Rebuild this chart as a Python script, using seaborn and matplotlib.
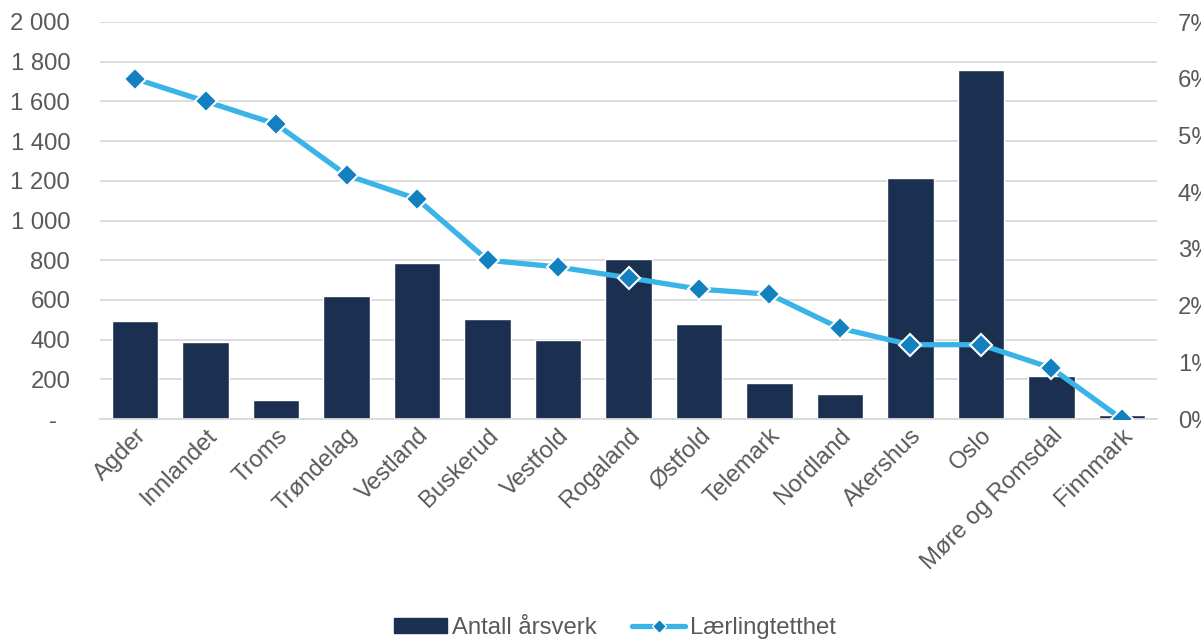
import matplotlib
matplotlib.use("Agg")
import matplotlib.pyplot as plt
import seaborn as sns
import pandas as pd
from matplotlib.ticker import FixedLocator, FuncFormatter
from matplotlib.lines import Line2D
from matplotlib.patches import Patch

categories = ["Agder", "Innlandet", "Troms", "Trøndelag", "Vestland", "Buskerud",
              "Vestfold", "Rogaland", "Østfold", "Telemark", "Nordland", "Akershus",
              "Oslo", "Møre og Romsdal", "Finnmark"]
arsverk = [495, 390, 95, 620, 785, 505, 400, 808, 480, 182, 126, 1214, 1758, 218, 22]
laerlingtetthet = [6.0, 5.6, 5.2, 4.3, 3.88, 2.8, 2.68, 2.49, 2.29, 2.2, 1.6, 1.31, 1.31, 0.9, 0.0]
left_ticks = [0, 200, 400, 600, 800, 1000, 1200, 1400, 1600, 1800, 2000]
right_ticks = [0, 1, 2, 3, 4, 5, 6, 7]
bar_label = "Antall årsverk"
line_label = "Lærlingtetthet"

sns.set_theme(style="white")
plt.rcParams["font.family"] = ["Liberation Sans", "DejaVu Sans"]

BAR = "#1B3050"
LINE = "#3AB4E6"
MARK = "#1380C0"
TXT = "#595959"
GRID = "#D9D9D9"
FS = 17.2

df = pd.DataFrame({"Fylke": categories, "Arsverk": arsverk, "Pct": laerlingtetthet})

fig = plt.figure(figsize=(12.01, 6.41), dpi=100)
ax = fig.add_axes([100 / 1201, 1 - 419 / 641, (1157 - 100) / 1201, (419 - 22) / 641])
sns.barplot(data=df, x="Fylke", y="Arsverk", color=BAR, width=0.66, saturation=1,
            ax=ax, zorder=2)
ax.set_ylim(0, 2000)
ax.set_xlim(-0.5, len(categories) - 0.5)
ax.yaxis.set_major_locator(FixedLocator(left_ticks))
ax.yaxis.set_major_formatter(FuncFormatter(
    lambda v, p: "-  " if v == 0 else f"{int(v):,}".replace(",", " ")))
ax.grid(axis="y", color=GRID, linewidth=1.3, zorder=0)
ax.set_axisbelow(True)
for s in ["top", "right", "left"]:
    ax.spines[s].set_visible(False)
ax.spines["bottom"].set_color(GRID)
ax.spines["bottom"].set_linewidth(1.3)
ax.set_xlabel("")
ax.set_ylabel("")
ax.tick_params(axis="y", length=0, pad=21.5, labelsize=FS, labelcolor=TXT)
ax.tick_params(axis="x", length=0, pad=4, labelsize=FS, labelcolor=TXT)
plt.setp(ax.get_xticklabels(), rotation=45, ha="right", rotation_mode="anchor")

ax2 = ax.twinx()
sns.lineplot(data=df, x="Fylke", y="Pct", sort=False, color=LINE, linewidth=3.8,
             marker="D", markersize=11, markerfacecolor=MARK, markeredgecolor="white",
             markeredgewidth=1.5, ax=ax2, zorder=3)
ax2.set_ylim(0, 7)
ax2.yaxis.set_major_locator(FixedLocator(right_ticks))
ax2.yaxis.set_major_formatter(FuncFormatter(lambda v, p: f"{int(v)}%"))
ax2.tick_params(axis="y", length=0, pad=15, labelsize=FS, labelcolor=TXT)
ax2.set_ylabel("")
ax2.set_xlabel("")
for s in ax2.spines.values():
    s.set_visible(False)
ax2.grid(False)

handles = [Patch(facecolor=BAR, edgecolor=BAR),
           Line2D([0], [0], color=LINE, linewidth=3.8, marker="D", markersize=7,
                  markerfacecolor=MARK, markeredgecolor="white", markeredgewidth=1)]
fig.legend(handles, [bar_label, line_label], loc="center", bbox_to_anchor=(0.512, 1 - 628 / 641),
           ncol=2, frameon=False, fontsize=FS, labelcolor=TXT, handlelength=2.2,
           handleheight=0.6, handletextpad=0.2, columnspacing=1.5)

fig.savefig("out.png", dpi=100)
